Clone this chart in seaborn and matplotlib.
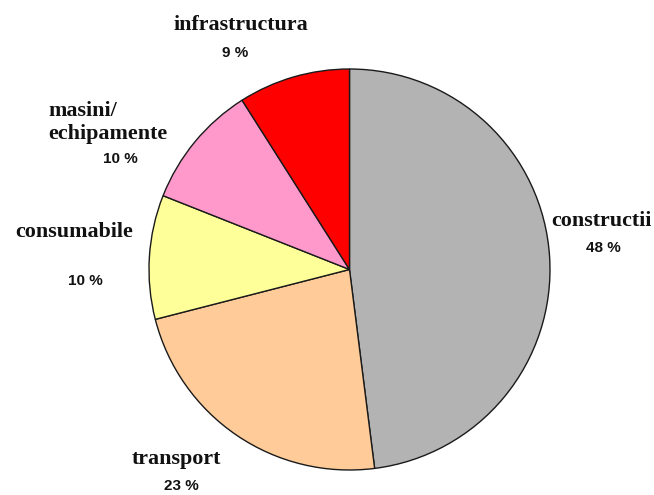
import matplotlib
matplotlib.use("Agg")
import matplotlib.pyplot as plt
import seaborn as sns

# Shares of spending by category (percent)
categories = ["constructii", "transport", "consumabile", "masini/\nechipamente", "infrastructura"]
shares = [48, 23, 10, 10, 9]
colors = ["#B3B3B3", "#FFCC99", "#FFFF99", "#FF99CC", "#FF0000"]

sns.set_theme(style="white")
plt.rcParams["font.family"] = ["DejaVu Sans"]

W, H = 654, 495
fig = plt.figure(figsize=(W / 100, H / 100), dpi=100)
fig.patch.set_facecolor("white")

# Pie occupies a square box on the canvas (pixel coords of its bounding box)
x0, y0, x1, y1 = 147, 67, 552, 472
ax = fig.add_axes([x0 / W, 1 - y1 / H, (x1 - x0) / W, (y1 - y0) / H])
wedges, _ = ax.pie(
    shares,
    colors=sns.color_palette(colors),
    startangle=90,
    counterclock=False,
    radius=1.0,
    wedgeprops=dict(edgecolor="#1a1a1a", linewidth=1.0),
)
ax.set_xlim(-1.01, 1.01)
ax.set_ylim(-1.01, 1.01)
ax.set_aspect("equal")
ax.axis("off")

name_font = dict(family="Liberation Serif", fontweight="bold", fontsize=15.8, color="#111111")
pct_font = dict(family="Liberation Sans", fontweight="bold", fontsize=11, color="#111111")


def put(px, py, s, ha="center", **kw):
    fig.text(px / W, 1 - py / H, s, ha=ha, va="center", **kw)


# category names and their percentages
put(241, 25, categories[4], **name_font)
put(235, 53, f"{shares[4]} %", **pct_font)

put(48, 111, "masini/", ha="left", **name_font)
put(48, 134, "echipamente", ha="left", **name_font)
put(120, 159, f"{shares[3]} %", **pct_font)

put(74, 232, categories[2], **name_font)
put(85, 281, f"{shares[2]} %", **pct_font)

put(601, 221, categories[0], **name_font)
put(603, 248, f"{shares[0]} %", **pct_font)

put(176, 459, categories[1], **name_font)
put(181, 486, f"{shares[1]} %", **pct_font)

fig.savefig("out.png", dpi=100, facecolor="white")
